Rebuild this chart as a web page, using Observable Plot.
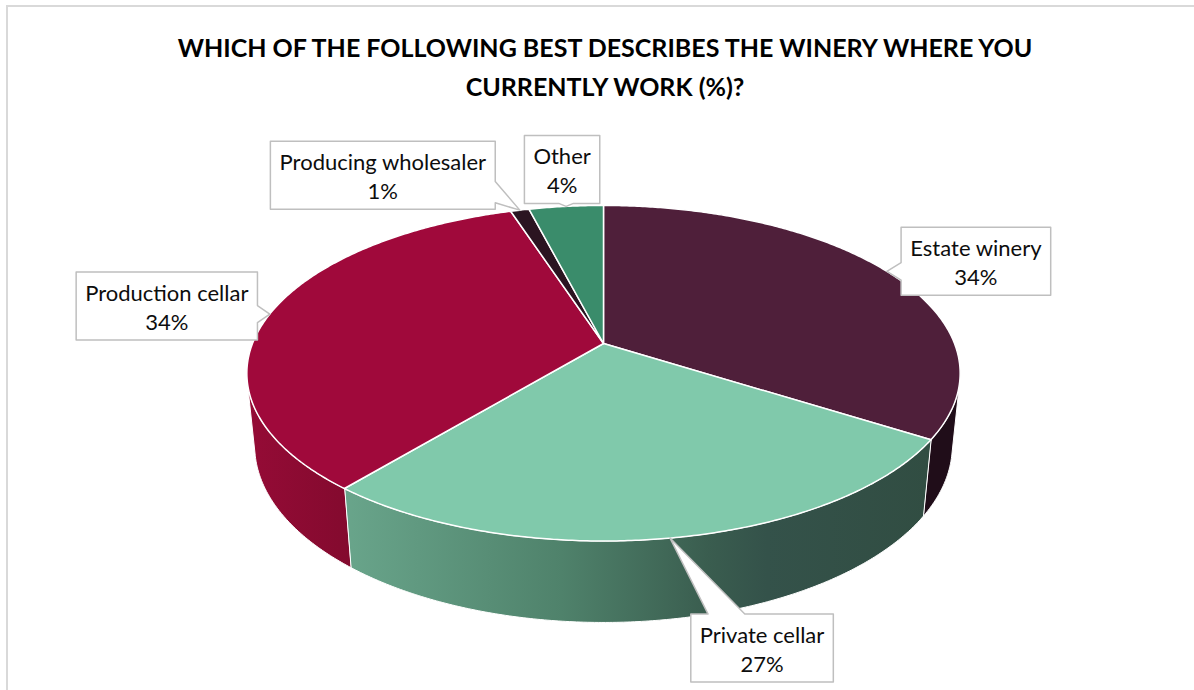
<!DOCTYPE html>
<html>
<head>
<meta charset="utf-8">
<script src="https://cdn.jsdelivr.net/npm/d3@7"></script>
<script src="https://cdn.jsdelivr.net/npm/@observablehq/plot@0.6"></script>
<style>
  html, body { margin: 0; padding: 0; background: #ffffff; }
  body { width: 1194px; height: 690px; position: relative; overflow: hidden; font-family: Lato, "Open Sans", sans-serif; }
  #frame { position: absolute; left: 6px; top: 5px; width: 1400px; height: 900px; border-left: 2px solid #d9d9d9; border-top: 2px solid #d9d9d9; box-sizing: border-box; }
  #title { position: absolute; left: 8px; top: 28px; width: 1194px; text-align: center; font-weight: 700; font-size: 25px; line-height: 39px; color: #000; }
  #chart { position: absolute; left: 0; top: 110px; }
</style>
</head>
<body>
<div id="frame"></div>
<div id="title"></div>
<div id="chart"></div>
<script>
// ---------- data ----------
const categories = ["Estate winery", "Private cellar", "Production cellar", "Producing wholesaler", "Other"];
const values = [34, 27, 34, 1, 4];
const titleLines = ["WHICH OF THE FOLLOWING BEST DESCRIBES THE WINERY WHERE YOU", "CURRENTLY WORK (%)?"];

// ---------- styles ----------
const topColors = ["#4f1f3a", "#80c9ab", "#a0093b", "#2b1421", "#3a8c6b"];
const sideFills = ["#200d19", "url(#side-private)", "url(#side-production)", "#1a0c14", "#245a45"];
// callout box centre offsets from the slice anchor (annotation layout)
const labelOffsets = [[89, -10], [92, 110], [-103, -8], [-137, -35], [-4, -37]];

// ---------- 3D projection (perspective view of a tilted disk) ----------
const CX = 603, CY = 343, S = 351, DIST = 5, SINP = 0.463, COSP = 0.886, DEPTH = 0.235;
function proj(thDeg, r, z) {
  const t = thDeg * Math.PI / 180;
  const X = r * Math.sin(t), Y = r * Math.cos(t);
  const d = DIST + Y * COSP - z * SINP;
  return [CX + S * X * DIST / d, CY - S * (Y * SINP + z * COSP) * DIST / d];
}

const total = d3.sum(values);
let acc = 0;
const slices = categories.map((c, i) => {
  const a0 = acc / total * 360; acc += values[i];
  const a1 = acc / total * 360;
  return {cat: c, i, a0, a1, mid: (a0 + a1) / 2, value: values[i]};
});

function arc(a0, a1, z) {
  const n = Math.max(2, Math.ceil((a1 - a0) / 0.5));
  const pts = [];
  for (let k = 0; k <= n; k++) pts.push(proj(a0 + (a1 - a0) * k / n, 1, z));
  return pts;
}

// top faces
const topRows = slices.flatMap(s => {
  const pts = [proj(0, 0, 0), ...arc(s.a0, s.a1, 0)];
  return pts.map(p => ({cat: s.cat, x: p[0], y: p[1]}));
});

// visible side faces
const vis = Math.acos(-1 / (DIST * COSP)) * 180 / Math.PI;
const sideMarks = [];
slices.forEach(s => {
  const a = Math.max(s.a0, vis), b = Math.min(s.a1, 360 - vis);
  if (a >= b) return;
  const pts = [...arc(a, b, 0), ...arc(a, b, -DEPTH).reverse()];
  const rows = pts.map(p => ({cat: s.cat, x: p[0], y: p[1]}));
  sideMarks.push(Plot.line(rows, {x: "x", y: "y", curve: "linear-closed", fill: sideFills[s.i], stroke: "white", strokeWidth: 1, strokeLinejoin: "round"}));
});

// callouts
const FONT_SIZE = 22;
const ctx = document.createElement("canvas").getContext("2d");
ctx.font = `${FONT_SIZE}px Lato`;
const labels = slices.map(s => {
  const text = `${s.cat}\n${s.value}%`;
  const w = Math.max(...text.split("\n").map(t => ctx.measureText(t).width)) + 18;
  const h = 68;
  const tip = proj(s.mid, 1, 0);
  const cx = tip[0] + labelOffsets[s.i][0], cy = tip[1] + labelOffsets[s.i][1];
  return {cat: s.cat, text, w, h, tip, cx, cy};
});

function calloutPoly(l) {
  const {cx, cy, w, h, tip} = l;
  const L = cx - w / 2, R = cx + w / 2, T = cy - h / 2, B = cy + h / 2;
  const dx = (tip[0] - cx) / (w / 2), dy = (tip[1] - cy) / (h / 2);
  const side = Math.abs(dx) > Math.abs(dy) ? (dx > 0 ? "right" : "left") : (dy > 0 ? "bottom" : "top");
  const clamp = (v, lo, hi) => Math.max(lo, Math.min(hi, v));
  let bc, half;
  if (side === "top" || side === "bottom") {
    bc = clamp(tip[0], L + 0.25 * w, R - 0.25 * w);
    const ey = side === "top" ? T : B;
    half = 7 + 0.12 * Math.hypot(tip[0] - bc, tip[1] - ey);
  } else {
    bc = clamp(tip[1], T + 0.25 * h, B - 0.25 * h);
    const ex = side === "left" ? L : R;
    half = 7 + 0.12 * Math.hypot(tip[0] - ex, tip[1] - bc);
  }
  const p = [[L, T]];
  if (side === "top") p.push([bc - half, T], tip, [bc + half, T]);
  p.push([R, T]);
  if (side === "right") p.push([R, bc - half], tip, [R, bc + half]);
  p.push([R, B]);
  if (side === "bottom") p.push([bc + half, B], tip, [bc - half, B]);
  p.push([L, B]);
  if (side === "left") p.push([L, bc + half], tip, [L, bc - half]);
  return p.map(q => ({cat: l.cat, x: q[0], y: q[1]}));
}
const calloutRows = labels.flatMap(calloutPoly);

document.getElementById("title").innerHTML = titleLines.join("<br>");

const chart = Plot.plot({
  width: 1194,
  height: 580,
  margin: 0,
  style: {background: "transparent", overflow: "visible"},
  x: {domain: [0, 1194], range: [0, 1194], axis: null},
  y: {domain: [110, 690], range: [0, 580], axis: null},
  color: {domain: categories, range: topColors},
  marks: [
    ...sideMarks,
    Plot.line(topRows, {x: "x", y: "y", z: "cat", fill: "cat", stroke: "white", strokeWidth: 1.5, strokeLinejoin: "round", curve: "linear-closed"}),
    Plot.line(calloutRows, {x: "x", y: "y", z: "cat", fill: "white", stroke: "#bfbfbf", strokeWidth: 1.5, curve: "linear-closed"}),
    Plot.text(labels, {x: "cx", y: "cy", text: "text", fontSize: FONT_SIZE, fontFamily: "Lato", lineHeight: 1.32, fill: "#0d0d0d"})
  ]
});

// gradients for the shaded side walls
const defs = d3.select(chart).insert("defs", ":first-child");
const g1 = defs.append("linearGradient").attr("id", "side-private").attr("x1", "0").attr("x2", "1").attr("y1", "0").attr("y2", "0");
[[0, "#69a58b"], [0.37, "#4f826b"], [0.62, "#3a5d4f"], [0.72, "#34524a"], [1, "#314d42"]].forEach(([o, c]) => g1.append("stop").attr("offset", o).attr("stop-color", c));
const g2 = defs.append("linearGradient").attr("id", "side-production").attr("x1", "0").attr("x2", "1").attr("y1", "0").attr("y2", "0");
[[0, "#950b36"], [1, "#830a2e"]].forEach(([o, c]) => g2.append("stop").attr("offset", o).attr("stop-color", c));

document.getElementById("chart").appendChild(chart);
</script>
</body>
</html>
